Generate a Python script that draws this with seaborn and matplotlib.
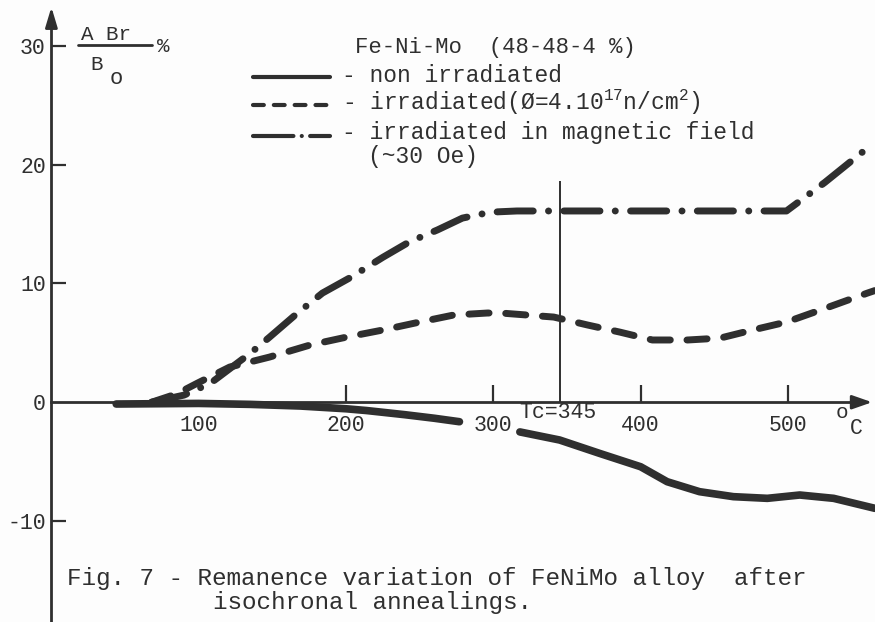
import numpy as np
import pandas as pd
import matplotlib
matplotlib.use("Agg")
import matplotlib.pyplot as plt
from matplotlib.lines import Line2D
import seaborn as sns

# ---------------- data (temperature in degC, remanence change in %) -------------
solid_T1 = [44, 100, 135, 169, 200, 214, 240, 260, 277]
solid_V1 = [-0.15, -0.1, -0.18, -0.32, -0.55, -0.7, -1.05, -1.35, -1.64]
solid_T2 = [318, 345, 372, 400, 418, 440, 463, 486, 508, 531, 559]
solid_V2 = [-2.5, -3.18, -4.3, -5.43, -6.69, -7.53, -7.95, -8.09, -7.81, -8.09, -8.93]

dash_T = [68, 85, 99, 121, 148, 176, 201, 225, 250, 273, 296, 305, 341, 364, 386,
          408, 432, 454, 476, 499, 522, 554, 559]
dash_V = [0.0, 0.7, 1.6, 2.96, 3.8, 4.83, 5.5, 6.08, 6.75, 7.34, 7.51, 7.51, 7.17,
          6.5, 5.9, 5.24, 5.24, 5.4, 6.08, 6.75, 7.76, 9.19, 9.4]

dd_T = [68, 90, 108, 135, 148, 167, 184, 203, 225, 243, 262, 279, 298, 316,
        400, 499, 525, 551, 559]
dd_V = [0.0, 0.6, 1.6, 4.12, 5.47, 7.5, 9.19, 10.5, 12.2, 13.5, 14.5, 15.5, 16.0,
        16.1, 16.1, 16.1, 18.5, 21.1, 21.6]

tc = 345
tc_top = 18.6
x_ticks = [100, 200, 300, 400, 500]
y_ticks = [-10, 0, 10, 20, 30]

legend_title = "Fe-Ni-Mo  (48-48-4 %)"
legend_labels = ["- non irradiated",
                 "- irradiated(\u00d8=4.10$^{17}$n/cm$^{2}$)",
                 "- irradiated in magnetic field"]
legend_extra = "(~30 Oe)"
caption = ["Fig. 7 - Remanence variation of FeNiMo alloy  after",
           "isochronal annealings."]

# ---------------- style ----------------
sns.set_theme(style="white")
plt.rcParams["font.family"] = ["Liberation Mono", "DejaVu Sans Mono"]
plt.rcParams["mathtext.fontset"] = "custom"
plt.rcParams["mathtext.rm"] = "Liberation Mono"
plt.rcParams["mathtext.it"] = "Liberation Mono"
plt.rcParams["mathtext.default"] = "rm"

INK = "#2f2f2f"
W, H = 875, 622

fig = plt.figure(figsize=(8.75, 6.22), dpi=100, facecolor="#fdfdfd")
ax = fig.add_axes([0, 0, 1, 1])
ax.set_facecolor("#fdfdfd")
ax.set_xlim(-34.9, 559.1)
ax.set_ylim(-18.5, 33.86)


def P(px, py):
    """pixel position -> axes fraction (for text / decorations)"""
    return px / W, 1 - py / H


# curves
df_s1 = pd.DataFrame({"T": solid_T1, "V": solid_V1})
df_s2 = pd.DataFrame({"T": solid_T2, "V": solid_V2})
df_d = pd.DataFrame({"T": dash_T, "V": dash_V})
df_dd = pd.DataFrame({"T": dd_T, "V": dd_V})

for d in (df_s1, df_s2):
    sns.lineplot(data=d, x="T", y="V", ax=ax, color=INK, lw=5.5, sort=False,
                 estimator=None, solid_capstyle="round", solid_joinstyle="round")
sns.lineplot(data=df_d, x="T", y="V", ax=ax, color=INK, lw=5, sort=False,
             estimator=None, linestyle=(0, (2.9, 2.4)), dash_capstyle="round",
             dash_joinstyle="round")
sns.lineplot(data=df_dd, x="T", y="V", ax=ax, color=INK, lw=5, sort=False,
             estimator=None, linestyle=(0, (5.2, 2.2, 0.01, 2.2)),
             dash_capstyle="round", dash_joinstyle="round")

# Tc line
ax.vlines(tc, 0, tc_top, color=INK, lw=1.4)

# axes
for s in ("top", "right"):
    ax.spines[s].set_visible(False)
for s in ("left", "bottom"):
    ax.spines[s].set_color(INK)
    ax.spines[s].set_linewidth(2.0)
    ax.spines[s].set_position(("data", 0))
ax.spines["left"].set_bounds(-18.5, 32.5)
ax.spines["bottom"].set_bounds(0, 552)
ax.annotate("", xy=(559, 0), xytext=(545, 0),
            arrowprops=dict(arrowstyle="-|>,head_length=1.0,head_width=0.35",
                            color=INK, lw=2))
ax.annotate("", xy=(0, 33.5), xytext=(0, 31.5),
            arrowprops=dict(arrowstyle="-|>,head_length=1.0,head_width=0.3",
                            color=INK, lw=2))

ax.set_xticks(x_ticks)
ax.set_xticklabels([str(t) for t in x_ticks])
ax.set_yticks(y_ticks)
ax.set_yticklabels([str(t) for t in y_ticks])
ax.tick_params(axis="x", direction="in", length=12, width=1.6, color=INK,
               labelsize=15.5, labelcolor=INK, pad=9, bottom=True)
ax.tick_params(axis="y", direction="in", length=11, width=1.6, color=INK,
               labelsize=15.5, labelcolor=INK, pad=4, left=True)
ax.xaxis.get_major_ticks()[0].tick1line.set_visible(False)
ax.yaxis.get_major_ticks()[1].tick1line.set_visible(False)
ax.set_xlabel("")
ax.set_ylabel("")
ax.grid(False)

TXT = dict(color=INK, transform=ax.transAxes)

# y-axis quantity label  (A Br / Bo %)
ax.text(*P(106, 34), "A Br", ha="center", va="center", fontsize=15, **TXT)
ax.add_line(Line2D([P(78, 0)[0], P(152, 0)[0]], [P(0, 45)[1]] * 2,
                   transform=ax.transAxes, color=INK, lw=2))
ax.text(*P(163, 46), "%", ha="center", va="center", fontsize=15, **TXT)
ax.text(*P(97, 65), "B", ha="center", va="center", fontsize=15, **TXT)
ax.text(*P(116, 79), "o", ha="center", va="center", fontsize=16, **TXT)

# unit
ax.text(*P(842, 412), "o", ha="center", va="center", fontsize=15, **TXT)
ax.text(*P(856, 428), "C", ha="center", va="center", fontsize=15.5, **TXT)
# Tc
ax.text(*P(558, 413), "Tc=345", ha="center", va="center", fontsize=15.5, **TXT)

# legend
ax.text(*P(355, 47), legend_title, ha="left", va="center", fontsize=16, **TXT)
ax.add_line(Line2D([P(253, 0)[0], P(330, 0)[0]], [P(0, 77)[1]] * 2,
                   transform=ax.transAxes, color=INK, lw=3, solid_capstyle="round"))
ax.add_line(Line2D([P(253, 0)[0], P(330, 0)[0]], [P(0, 105)[1]] * 2,
                   transform=ax.transAxes, color=INK, lw=3,
                   linestyle=(0, (2.6, 2.4)), dash_capstyle="round"))
ax.add_line(Line2D([P(253, 0)[0], P(330, 0)[0]], [P(0, 136)[1]] * 2,
                   transform=ax.transAxes, color=INK, lw=3,
                   linestyle=(0, (9.7, 2.0, 0.01, 2.0)), dash_capstyle="round"))
ax.text(*P(342, 75), legend_labels[0], ha="left", va="center", fontsize=16.5, **TXT)
ax.text(*P(342, 102), legend_labels[1], ha="left", va="center", fontsize=16.5, **TXT)
ax.text(*P(342, 132), legend_labels[2], ha="left", va="center", fontsize=16.5, **TXT)
ax.text(*P(368, 157), legend_extra, ha="left", va="center", fontsize=16.5, **TXT)

# caption
ax.text(*P(67, 578), caption[0], ha="left", va="center", fontsize=17.5, **TXT)
ax.text(*P(213, 603), caption[1], ha="left", va="center", fontsize=17.5, **TXT)

fig.savefig("out.png", dpi=100, facecolor=fig.get_facecolor())
